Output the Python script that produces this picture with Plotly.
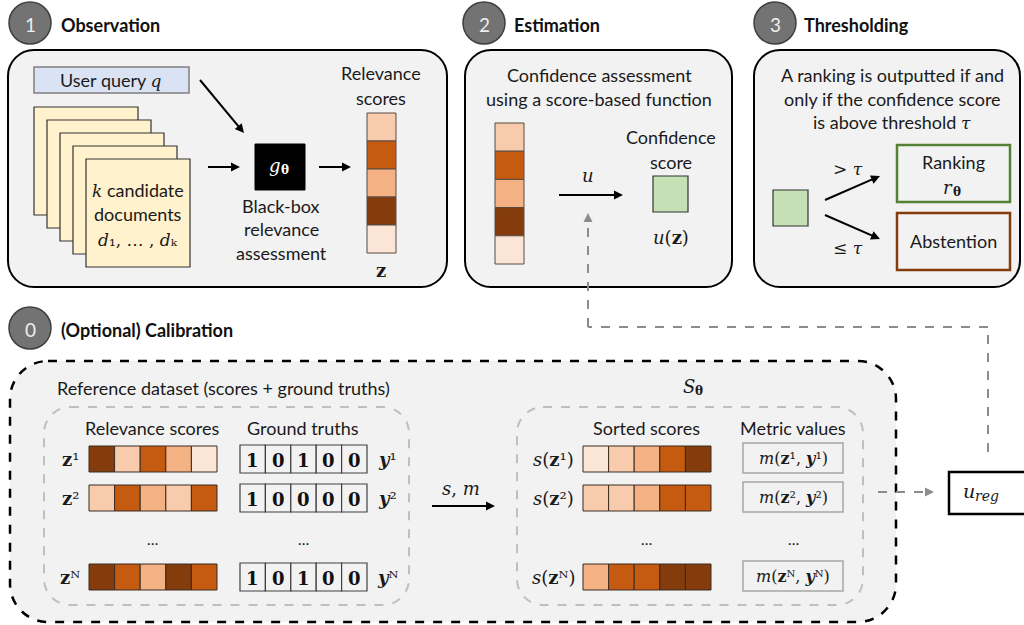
import plotly.graph_objects as go
import math

# ---------------- data ----------------
palette = ["#fbe5d6", "#f8cbad", "#f4b183", "#c55a11", "#843c0c"]  # score level -> colour
obs_scores = [1, 3, 2, 4, 0]          # relevance scores z (panel 1 / panel 2)
ref_rows = ["¹", "²", "ᴺ"]
ref_scores = [[4, 1, 3, 2, 0], [1, 3, 2, 1, 3], [4, 3, 2, 4, 3]]
ground_truths = [[1, 0, 1, 0, 0], [1, 0, 0, 0, 0], [1, 0, 1, 0, 0]]
sorted_scores = [[0, 1, 2, 3, 4], [1, 1, 2, 3, 3], [2, 3, 3, 4, 4]]
step_numbers = ["1", "2", "3", "0"]
step_titles = ["Observation", "Estimation", "Thresholding", "(Optional) Calibration"]

SANS = "Lato"
SERIF = "DejaVu Serif"
BG = "#f2f2f2"
TS = 18   # body text size
MS = 17   # math text size

fig = go.Figure()
shapes = []
annos = []


def M(s, size=MS):
    return f"<span style='font-family:{SERIF};font-size:{size}px'>{s}</span>"


def rect(x0, y0, x1, y1, fill="rgba(0,0,0,0)", line="#404040", width=1, dash="solid"):
    shapes.append(dict(type="rect", x0=x0, y0=y0, x1=x1, y1=y1, xref="x", yref="y",
                       fillcolor=fill, line=dict(color=line, width=width, dash=dash)))


def rrect(x0, y0, x1, y1, r, fill=BG, line="black", width=2, dash="solid"):
    k = 0.55 * r
    p = (f"M{x0+r},{y0} L{x1-r},{y0} C{x1-r+k},{y0} {x1},{y0+r-k} {x1},{y0+r} "
         f"L{x1},{y1-r} C{x1},{y1-r+k} {x1-r+k},{y1} {x1-r},{y1} "
         f"L{x0+r},{y1} C{x0+r-k},{y1} {x0},{y1-r+k} {x0},{y1-r} "
         f"L{x0},{y0+r} C{x0},{y0+r-k} {x0+r-k},{y0} {x0+r},{y0} Z")
    shapes.append(dict(type="path", path=p, xref="x", yref="y", fillcolor=fill,
                       line=dict(color=line, width=width, dash=dash)))


def line(x0, y0, x1, y1, color="black", width=2, dash="solid"):
    shapes.append(dict(type="line", x0=x0, y0=y0, x1=x1, y1=y1, xref="x", yref="y",
                       line=dict(color=color, width=width, dash=dash)))


def tri(xt, yt, dx, dy, color, size=8, half=4):
    bx, by = xt - dx * size, yt - dy * size
    px, py = -dy, dx
    p = f"M{xt},{yt} L{bx+px*half},{by+py*half} L{bx-px*half},{by-py*half} Z"
    shapes.append(dict(type="path", path=p, xref="x", yref="y", fillcolor=color,
                       line=dict(color=color, width=0)))


def arrow(x0, y0, x1, y1, color="black", width=2):
    L = math.hypot(x1 - x0, y1 - y0)
    dx, dy = (x1 - x0) / L, (y1 - y0) / L
    line(x0, y0, x1 - dx * 6, y1 - dy * 6, color, width)
    tri(x1, y1, dx, dy, color, size=9, half=4.5)


def text(x, y, s, size=TS, color="#1a1a1a", family=SANS, xanchor="center"):
    annos.append(dict(x=x, y=y, xref="x", yref="y", text=s, showarrow=False,
                      xanchor=xanchor, yanchor="middle", borderpad=0,
                      font=dict(size=size, color=color, family=family)))


def mtext(x, y, s, size=MS, color="#1a1a1a", xanchor="center"):
    text(x, y, s, size=size, color=color, family=SERIF, xanchor=xanchor)


def msub(x, y, base, sub, size=MS + 1, subsize=12, color="#1a1a1a"):
    # base symbol ending at x, subscript starting just left of x (lowered)
    mtext(x + 1, y, base, size=size, color=color, xanchor="right")
    mtext(x - 1, y + 5, sub, size=subsize, color=color, xanchor="left")


def circle(cx, cy, r, label):
    shapes.append(dict(type="circle", x0=cx - r, y0=cy - r, x1=cx + r, y1=cy + r,
                       xref="x", yref="y", fillcolor="#737373",
                       line=dict(color="#3f3f3f", width=1.5)))
    text(cx, cy + 1, label, size=19, color="#eeeeee")


def cells_h(x0, y0, x1, y1, levels):
    w = (x1 - x0) / len(levels)
    for i, lv in enumerate(levels):
        rect(x0 + i * w, y0, x0 + (i + 1) * w, y1, fill=palette[lv], line="#3a2a20", width=1)


def cells_v(x0, y0, x1, y1, levels):
    h = (y1 - y0) / len(levels)
    for i, lv in enumerate(levels):
        rect(x0, y0 + i * h, x1, y0 + (i + 1) * h, fill=palette[lv], line="#5a4a40", width=1)


# ---------------- headers ----------------
heads = [(30, 23, 60), (484, 23, 513), (775, 23, 803), (30, 328, 60)]
for (cx, cy, tx), num, title in zip(heads, step_numbers, step_titles):
    circle(cx, cy, 21, num)
    text(tx, cy + 2, f"<b>{title}</b>", size=TS, color="#111111", xanchor="left")

# ---------------- panel 1: Observation ----------------
rrect(8, 50, 447, 287, 26)
rect(34, 67, 189, 93, fill="#dae3f3", line="#7f7f7f", width=1.5)
text(111, 80, "User query " + M("<i>q</i>"))
for i in range(5):
    rect(34 + 13 * i, 107 + 13 * i, 138 + 13 * i, 215 + 13 * i, fill="#fff2cc", line="#333333", width=1.2)
text(138, 190, M("<i>k</i>") + " candidate")
text(138, 214, "documents")
mtext(138, 240, "<i>d</i>₁, … , <i>d</i>ₖ")
arrow(208, 167, 240, 167)
arrow(200, 80, 244, 133)
rect(255, 144, 305, 190, fill="black", line="black", width=1)
msub(281, 165, "<i>g</i>", "<b>θ</b>", color="white")
text(281, 206, "Black-box")
text(281, 229, "relevance")
text(281, 253, "assessment")
arrow(319, 167, 351, 167)
text(381, 73, "Relevance")
text(381, 98, "scores")
cells_v(367, 113, 396, 253, obs_scores)
mtext(381, 270, "<b>z</b>", size=MS + 1)

# ---------------- panel 2: Estimation ----------------
rrect(465, 50, 732, 287, 26)
text(599, 75, "Confidence assessment")
text(599, 99, "using a score-based function")
cells_v(495, 123, 524, 264, obs_scores)
arrow(559, 195, 623, 195)
mtext(588, 175, "<i>u</i>", size=MS + 1)
text(671, 137, "Confidence")
text(671, 162, "score")
rect(653, 176, 688, 212, fill="#c5e0b4", line="#333333", width=1.2)
mtext(671, 237, "<i>u</i>(<b>z</b>)", size=MS + 1)

# ---------------- panel 3: Thresholding ----------------
rrect(754, 50, 1020, 287, 26)
text(892, 75, "A ranking is outputted if and")
text(892, 99, "only if the confidence score")
text(892, 122, "is above threshold " + M("<i>τ</i>"))
rect(773, 190, 808, 226, fill="#c5e0b4", line="#333333", width=1.2)
arrow(825, 200, 880, 176)
arrow(825, 215, 880, 239)
mtext(848, 169, "&gt; <i>τ</i>")
mtext(848, 248, "≤ <i>τ</i>")
rect(897, 145, 1010, 202, fill=BG, line="#548235", width=2.5)
text(953, 162, "Ranking")
msub(953, 187, "<i>r</i>", "<b>θ</b>")
rect(897, 213, 1010, 270, fill=BG, line="#843c0c", width=2.5)
text(953, 241, "Abstention")

# ---------------- panel 0: Calibration ----------------
rrect(10, 361, 896, 622, 38, fill=BG, line="black", width=2.5, dash="dash")
text(56, 388, "Reference dataset (scores + ground truths)", xanchor="left")
rrect(44, 407, 409, 605, 26, fill=BG, line="#bfbfbf", width=2, dash="dash")
rrect(517, 407, 863, 605, 26, fill=BG, line="#bfbfbf", width=2, dash="dash")
msub(695, 386, "<i>S</i>", "<b>θ</b>")

text(152, 428, "Relevance scores")
text(303, 428, "Ground truths")
text(646, 428, "Sorted scores")
text(793, 428, "Metric values")

row_y = [(446, 472), (485, 511), (564, 590)]
for (y0, y1), rid, zs, gt, ss in zip(row_y, ref_rows, ref_scores, ground_truths, sorted_scores):
    ym = (y0 + y1) / 2
    mtext(70, ym, f"<b>z</b>{rid}", size=MS + 1)
    cells_h(89, y0, 217, y1, zs)
    w = (367 - 240) / len(gt)
    for i, g in enumerate(gt):
        rect(240 + i * w, y0 - 1, 240 + (i + 1) * w, y1 + 1, fill=BG, line="#404040", width=1.2)
        mtext(240 + (i + 0.5) * w, ym + 1, f"<b>{g}</b>", size=MS + 1, color="#111111")
    mtext(387, ym, f"<b><i>y</i></b>{rid}", size=MS + 1)
    mtext(553, ym, f"<i>s</i>(<b>z</b>{rid})", size=MS + 1)
    cells_h(583, y0, 711, y1, ss)
    rect(743, y0 - 3, 843, y1 + 1, fill=BG, line="#a6a6a6", width=1.5)
    mtext(793, ym - 1, f"<i>m</i>(<b>z</b>{rid}, <b><i>y</i></b>{rid})", size=MS - 1)

for x in (152, 303, 646, 793):
    text(x, 539, "…", size=15)

arrow(432, 506, 495, 506)
mtext(461, 488, "<i>s</i>, <i>m</i>", size=MS + 1)

# dashed link to u_reg and back to estimation
line(878, 492, 926, 492, color="#8c8c8c", width=2, dash="dash")
tri(934, 492, 1, 0, "#8c8c8c", size=9, half=4.5)
rect(949, 472, 1040, 514, fill="white", line="black", width=2.5)
msub(975, 491, "<i>u</i>", "<i>reg</i>", size=MS + 2, subsize=14)
line(988, 452, 988, 327, color="#8c8c8c", width=2, dash="dash")
line(988, 327, 588, 327, color="#8c8c8c", width=2, dash="dash")
line(588, 327, 588, 222, color="#8c8c8c", width=2, dash="dash")
tri(588, 213, 0, -1, "#8c8c8c", size=9, half=4.5)

fig.update_layout(
    width=1024, height=625, margin=dict(l=0, r=0, t=0, b=0),
    paper_bgcolor="white", plot_bgcolor="white",
    xaxis=dict(range=[0, 1024], visible=False, fixedrange=True),
    yaxis=dict(range=[625, 0], visible=False, fixedrange=True),
    shapes=shapes, annotations=annos, showlegend=False,
)
# remove the default 8px page margin so the figure fills the window exactly
fig.write_html("out.html", config={"displayModeBar": False},
               post_script="document.body.style.margin='0px';document.body.style.overflow='hidden';")
